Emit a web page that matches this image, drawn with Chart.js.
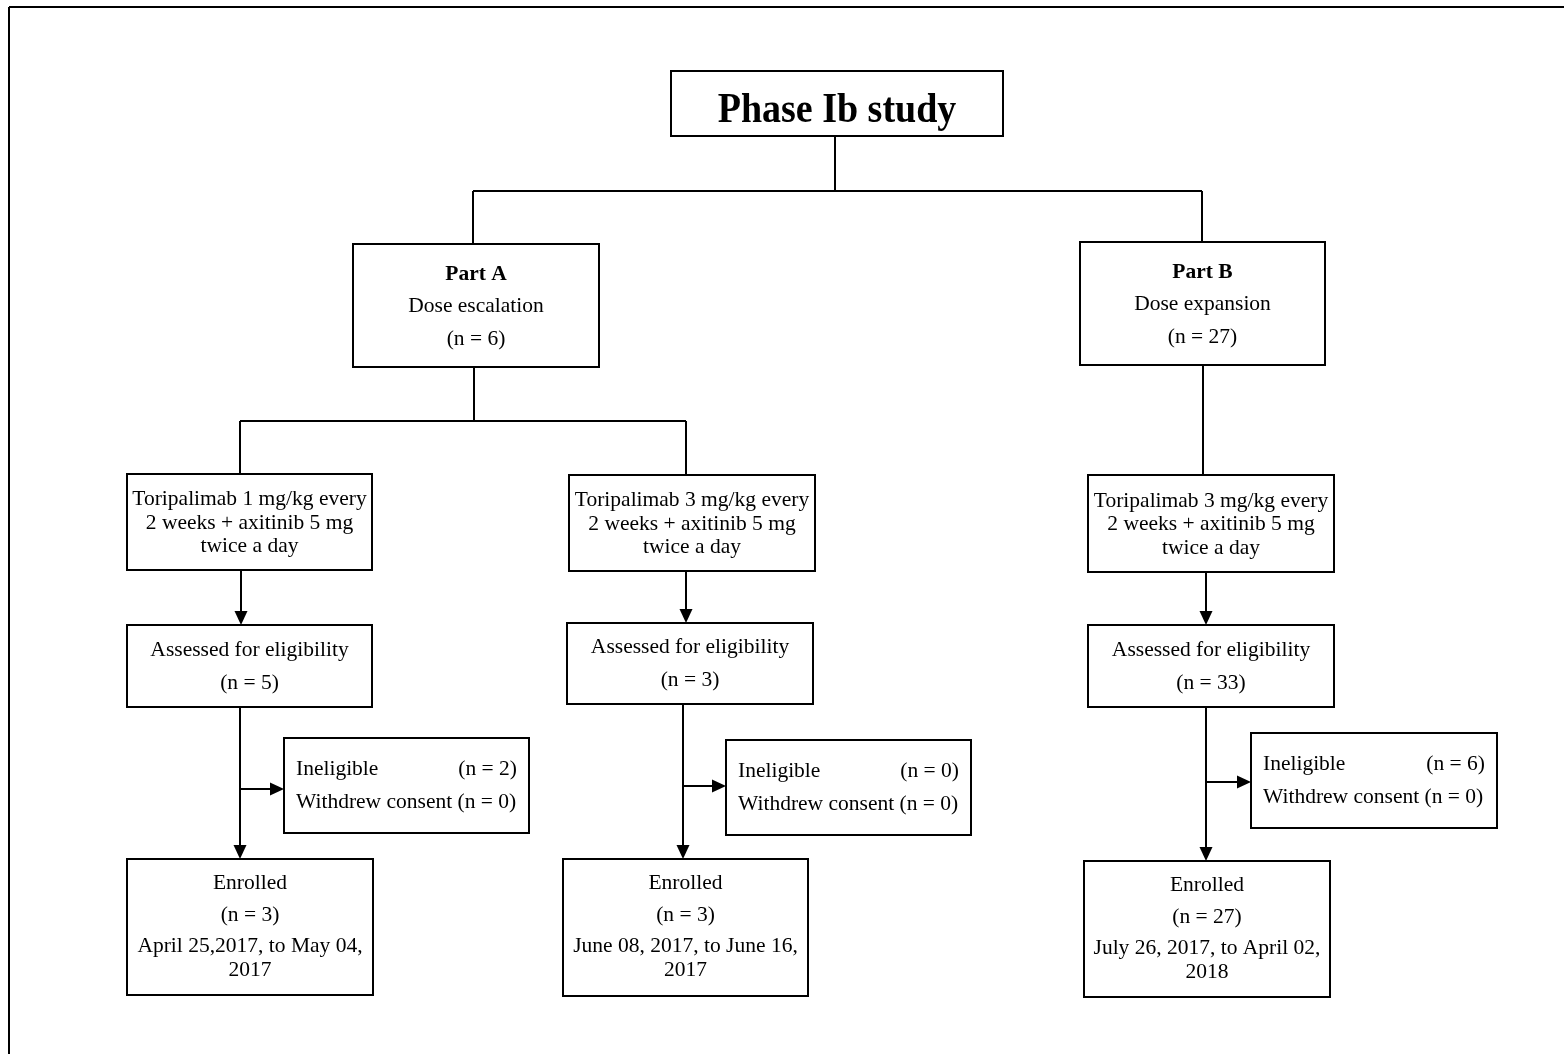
<!DOCTYPE html>
<html>
<head>
<meta charset="utf-8">
<title>Phase Ib study flow</title>
<script src="https://cdn.jsdelivr.net/npm/chart.js@4.4.1/dist/chart.umd.min.js"></script>
<style>
  html, body { margin: 0; padding: 0; background: #fff; }
  #wrap { width: 1564px; height: 1054px; }
</style>
</head>
<body>
<div id="wrap"><canvas id="flow" width="1564" height="1054"></canvas></div>
<script>
'use strict';

// --- content of the flow diagram ---
const studyTitle = 'Phase Ib study';
const partNames = ['Part A', 'Part B'];
const partPhases = ['Dose escalation', 'Dose expansion'];
const partCounts = [6, 27];
const regimenLines = [
    ['Toripalimab 1 mg/kg every', '2 weeks + axitinib 5 mg', 'twice a day'],
    ['Toripalimab 3 mg/kg every', '2 weeks + axitinib 5 mg', 'twice a day'],
    ['Toripalimab 3 mg/kg every', '2 weeks + axitinib 5 mg', 'twice a day']
];
const assessedCounts = [5, 3, 33];
const ineligibleCounts = [2, 0, 6];
const withdrewCounts = [0, 0, 0];
const enrolledCounts = [3, 3, 27];
const enrolledPeriods = [
    ['April 25,2017, to May 04,', '2017'],
    ['June 08, 2017, to June 16,', '2017'],
    ['July 26, 2017, to April 02,', '2018']
];

// --- layout, in the 1564 x 1054 units of the x / y scales: [x0, y0, x1, y1] ---
const titleBox = [671, 71, 1003, 136];
const partBoxes = [[353, 244, 599, 367], [1080, 242, 1325, 365]];
const regimenBoxes = [[127, 474, 372, 570], [569, 475, 815, 571], [1088, 475, 1334, 572]];
const assessedBoxes = [[127, 625, 372, 707], [567, 623, 813, 704], [1088, 625, 1334, 707]];
const excludedBoxes = [[284, 738, 529, 833], [726, 740, 971, 835], [1251, 733, 1497, 828]];
const enrolledBoxes = [[127, 859, 373, 995], [563, 859, 808, 996], [1084, 861, 1330, 997]];

// plain connector segments [x0, y0, x1, y1]
const connectors = [
    [835, 136, 835, 191],
    [473, 191, 1202, 191],
    [473, 191, 473, 244],
    [1202, 191, 1202, 242],
    [474, 367, 474, 421],
    [240, 421, 686, 421],
    [240, 421, 240, 474],
    [686, 421, 686, 475],
    [1203, 365, 1203, 475]
];
// segments ending in an arrow head
const arrows = [
    [241, 570, 241, 625],
    [686, 571, 686, 623],
    [1206, 572, 1206, 625],
    [240, 707, 240, 859],
    [683, 704, 683, 859],
    [1206, 707, 1206, 861],
    [240, 789, 284, 789],
    [683, 786, 726, 786],
    [1206, 782, 1251, 782]
];
// page frame (top and left rule)
const frameLines = [[9, 7, 1564, 7], [9, 7, 9, 1054]];

const SERIF = '"Liberation Serif", "Times New Roman", Times, serif';
const BODY_FONT = `21.5px ${SERIF}`;
const BOLD_FONT = `bold 21.5px ${SERIF}`;
const TITLE_FONT = `bold 38px ${SERIF}`;

const flowPlugin = {
    id: 'flowDiagram',
    afterDraw(chart) {
        const { ctx, scales: { x, y } } = chart;
        const px = v => x.getPixelForValue(v);
        const py = v => y.getPixelForValue(v);

        ctx.save();
        ctx.strokeStyle = '#000';
        ctx.fillStyle = '#000';
        ctx.lineCap = 'butt';

        const seg = (s, w) => {
            ctx.lineWidth = w;
            ctx.beginPath();
            ctx.moveTo(px(s[0]), py(s[1]));
            ctx.lineTo(px(s[2]), py(s[3]));
            ctx.stroke();
        };
        const rect = b => {
            ctx.lineWidth = 2;
            ctx.strokeRect(px(b[0]), py(b[1]), px(b[2]) - px(b[0]), py(b[3]) - py(b[1]));
        };
        const text = (str, cx, cy, font, align) => {
            ctx.font = font;
            ctx.textAlign = align || 'center';
            ctx.textBaseline = 'middle';
            ctx.fillText(str, px(cx), py(cy));
        };
        const arrow = s => {
            const x0 = px(s[0]), y0 = py(s[1]), x1 = px(s[2]), y1 = py(s[3]);
            const ang = Math.atan2(y1 - y0, x1 - x0);
            const len = 14, half = 6.5;
            const bx = x1 - len * Math.cos(ang), by = y1 - len * Math.sin(ang);
            ctx.lineWidth = 2;
            ctx.beginPath();
            ctx.moveTo(x0, y0);
            ctx.lineTo(bx, by);
            ctx.stroke();
            ctx.beginPath();
            ctx.moveTo(x1, y1);
            ctx.lineTo(bx + half * Math.sin(ang), by - half * Math.cos(ang));
            ctx.lineTo(bx - half * Math.sin(ang), by + half * Math.cos(ang));
            ctx.closePath();
            ctx.fill();
        };

        frameLines.forEach(s => seg(s, 2));
        connectors.forEach(s => seg(s, 2));
        arrows.forEach(arrow);

        // title: the original lettering is a touch taller than it is wide
        rect(titleBox);
        ctx.save();
        ctx.translate(px((titleBox[0] + titleBox[2]) / 2), py(titleBox[3] - 14));
        ctx.scale(1, 1.1);
        ctx.font = TITLE_FONT;
        ctx.textAlign = 'center';
        ctx.textBaseline = 'alphabetic';
        ctx.fillText(studyTitle, 0, 0);
        ctx.restore();

        // parts
        partBoxes.forEach((b, i) => {
            rect(b);
            const cx = (b[0] + b[2]) / 2;
            text(partNames[i], cx, b[1] + 30, BOLD_FONT);
            text(partPhases[i], cx, b[1] + 62, BODY_FONT);
            text(`(n = ${partCounts[i]})`, cx, b[1] + 95, BODY_FONT);
        });

        // regimens
        regimenBoxes.forEach((b, i) => {
            rect(b);
            const cx = (b[0] + b[2]) / 2, cy = (b[1] + b[3]) / 2;
            regimenLines[i].forEach((line, k) => text(line, cx, cy + (k - 1) * 23.5 + 1, BODY_FONT));
        });

        // assessed
        assessedBoxes.forEach((b, i) => {
            rect(b);
            const cx = (b[0] + b[2]) / 2, cy = (b[1] + b[3]) / 2;
            text('Assessed for eligibility', cx, cy - 16, BODY_FONT);
            text(`(n = ${assessedCounts[i]})`, cx, cy + 17, BODY_FONT);
        });

        // excluded
        excludedBoxes.forEach((b, i) => {
            rect(b);
            const cy = (b[1] + b[3]) / 2;
            text('Ineligible', b[0] + 12, cy - 16.5, BODY_FONT, 'left');
            text(`(n = ${ineligibleCounts[i]})`, b[2] - 12, cy - 16.5, BODY_FONT, 'right');
            text(`Withdrew consent (n = ${withdrewCounts[i]})`, b[0] + 12, cy + 16.5, BODY_FONT, 'left');
        });

        // enrolled
        enrolledBoxes.forEach((b, i) => {
            rect(b);
            const cx = (b[0] + b[2]) / 2;
            text('Enrolled', cx, b[1] + 24, BODY_FONT);
            text(`(n = ${enrolledCounts[i]})`, cx, b[1] + 56, BODY_FONT);
            text(enrolledPeriods[i][0], cx, b[1] + 87, BODY_FONT);
            text(enrolledPeriods[i][1], cx, b[1] + 111, BODY_FONT);
        });

        ctx.restore();
    }
};

new Chart(document.getElementById('flow'), {
    type: 'scatter',
    data: { datasets: [{ data: [], pointRadius: 0 }] },
    options: {
        responsive: false,
        animation: false,
        devicePixelRatio: 1,
        layout: { padding: 0 },
        plugins: { legend: { display: false }, tooltip: { enabled: false } },
        scales: {
            x: { type: 'linear', min: 0, max: 1564, display: false },
            y: { type: 'linear', min: 0, max: 1054, reverse: true, display: false }
        }
    },
    plugins: [flowPlugin]
});
</script>
</body>
</html>
